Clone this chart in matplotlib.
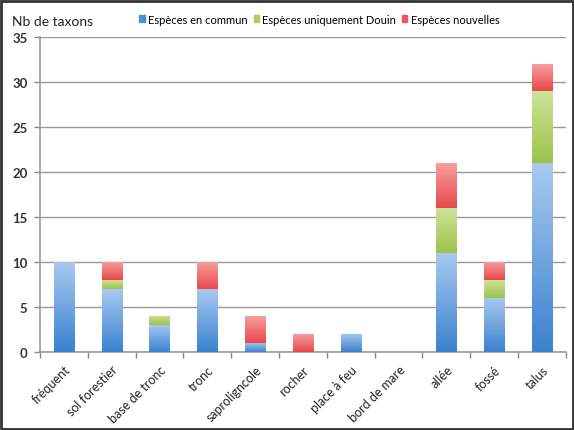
import matplotlib
matplotlib.use("Agg")
import matplotlib.pyplot as plt
import numpy as np
from matplotlib.colors import LinearSegmentedColormap
from matplotlib.patches import Rectangle

categories = ["fréquent", "sol forestier", "base de tronc", "tronc", "saproligncole",
              "rocher", "place à feu", "bord de mare", "allée", "fossé", "talus"]
commun = [10, 7, 3, 7, 1, 0, 2, 0, 11, 6, 21]
douin = [0, 1, 1, 0, 0, 0, 0, 0, 5, 2, 8]
nouvelles = [0, 2, 0, 3, 3, 2, 0, 0, 5, 2, 3]
series_names = ["Espèces en commun", "Espèces uniquement Douin", "Espèces nouvelles"]
yticks = [0, 5, 10, 15, 20, 25, 30, 35]

plt.rcParams['font.family'] = ['Lato', 'DejaVu Sans']

fig = plt.figure(figsize=(5.74, 4.31), dpi=100)
ax = fig.add_axes([0.0697, 0.181, 0.916, 0.731])

# gradients: (top color, bottom color)
grads = [("#a9c9f0", "#3b82cf"), ("#cfe39a", "#9cc44a"), ("#f7a0a0", "#e8494c")]
legend_colors = ["#4a8fdb", "#a9d05a", "#ee5558"]

x = np.arange(len(categories))
width = 0.42
bottoms = np.zeros(len(categories))
for vals, (ctop, cbot) in zip([commun, douin, nouvelles], grads):
    cmap = LinearSegmentedColormap.from_list("g", [cbot, ctop])
    bars = ax.bar(x, vals, width, bottom=bottoms, color="none", edgecolor="none", zorder=3)
    for b in bars:
        h = b.get_height()
        if h <= 0:
            continue
        x0, y0 = b.get_x(), b.get_y()
        grad = np.linspace(0, 1, 100).reshape(-1, 1)
        im = ax.imshow(grad, cmap=cmap, origin="lower", aspect="auto",
                       extent=[x0, x0 + b.get_width(), y0, y0 + h], zorder=3)
        im.set_clip_path(b)
    bottoms += np.array(vals)

ax.set_xlim(-0.5, len(categories) - 0.5)
ax.set_ylim(0, 35)
ax.set_yticks(yticks)
ax.set_yticklabels([str(v) for v in yticks], fontsize=9.5, fontweight="bold", color="#333333")
ax.yaxis.grid(True, color="#999999", linewidth=1.0, zorder=0)
ax.set_axisbelow(True)

ax.set_xticks(x)
ax.set_xticklabels(categories, rotation=45, ha="right", rotation_mode="anchor",
                   fontsize=9, color="#222222")
ax.tick_params(axis="x", length=0, pad=8)
ax.set_xticks(np.arange(-0.5, len(categories)), minor=True)
ax.tick_params(axis="x", which="minor", length=4, color="#888888", width=1)
ax.tick_params(axis="y", length=4, color="#888888", width=1, pad=5)

for s in ["top", "right"]:
    ax.spines[s].set_visible(False)
ax.spines["left"].set_color("#999999")
ax.spines["bottom"].set_color("#999999")
ax.spines["left"].set_linewidth(1.2)
ax.spines["bottom"].set_linewidth(1.2)

fig.text(12 / 574, 1 - 22 / 431, "Nb de taxons", fontsize=10, color="#222222", va="center")

handles = [Rectangle((0, 0), 1, 1, color=c) for c in legend_colors]
fig.legend(handles, series_names, loc="center right", bbox_to_anchor=(0.878, 1 - 20 / 431),
           ncol=3, frameon=False, fontsize=8, handlelength=0.5, handleheight=0.5,
           handletextpad=0.3, columnspacing=0.5, borderaxespad=0)

fig.patches.append(Rectangle((0.002, 0.002), 0.996, 0.994, transform=fig.transFigure,
                             fill=False, edgecolor="#333333", linewidth=2))

fig.savefig("out.png", dpi=100)
